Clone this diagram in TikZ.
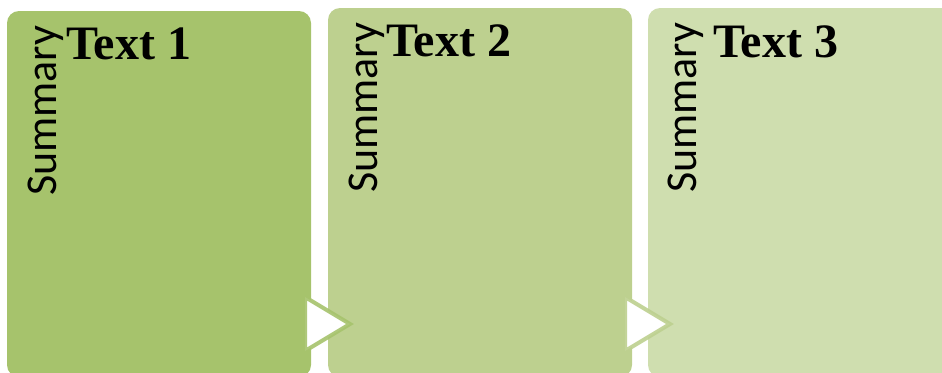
\documentclass[tikz,border=0pt]{standalone}
\usepackage{fontspec}
\newfontfamily\summaryfont{Carlito}
\newfontfamily\titlefont{Liberation Serif}
\definecolor{stageone}{HTML}{A6C36C}
\definecolor{stagetwo}{HTML}{BDD08F}
\definecolor{stagethree}{HTML}{CFDEAF}
\tikzset{
  stagebox/.style={rounded corners=9pt},
  sidelabel/.style={rotate=90,anchor=base west,inner sep=0pt,
    font=\summaryfont\fontsize{33}{33}\selectfont},
  titlelabel/.style={anchor=base west,inner sep=0pt,
    font=\titlefont\bfseries\fontsize{36}{36}\selectfont},
  chevron/.style={fill=white,line width=3pt,line join=miter,draw opacity=0.9}
}

\begin{document}
\begin{tikzpicture}[x=0.75pt,y=-0.75pt]
\path[use as bounding box] (0,0) rectangle (942,372);
\clip (0,0) rectangle (942,372);
% three stages
\fill[stagebox,stageone] (7,11) rectangle (311,377);
\fill[stagebox,stagetwo] (328,8) rectangle (632,377);
\fill[stagebox,stagethree] (648,8) rectangle (970,377);
\node[sidelabel] (sum1) at (56,196) {Summary};
\node[sidelabel] (sum2) at (377,193) {Summary};
\node[sidelabel] (sum3) at (696,193) {Summary};
\node[titlelabel] (title1) at (66,59) {Text 1};
\node[titlelabel] (title2) at (386,56) {Text 2};
\node[titlelabel] (title3) at (713,57) {Text 3};
% arrows between stages
\draw[chevron,draw=stageone] (305,297) -- (350,324) -- (305,351) -- cycle;
\draw[chevron,draw=stagetwo] (625,297) -- (670,324) -- (625,351) -- cycle;
\end{tikzpicture}
\end{document}
